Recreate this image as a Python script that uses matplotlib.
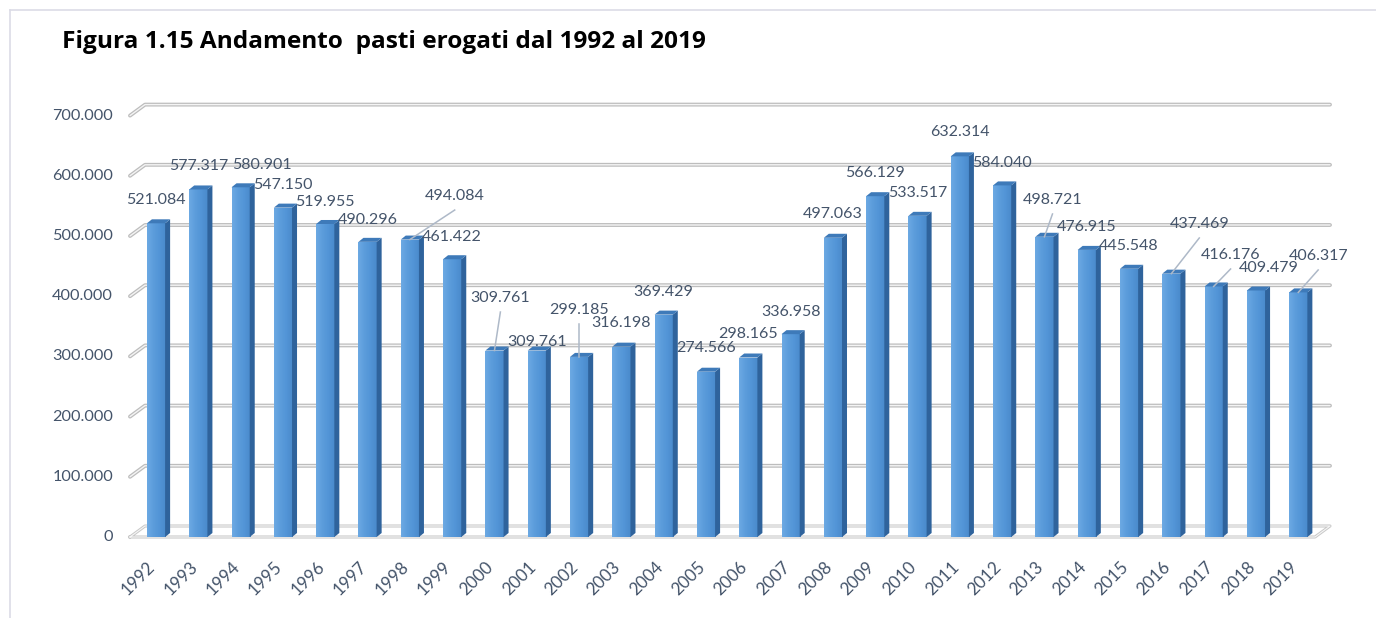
import numpy as np
import matplotlib
matplotlib.use("Agg")
import matplotlib.pyplot as plt
from matplotlib.patches import Polygon
from matplotlib.lines import Line2D
from matplotlib.colors import LinearSegmentedColormap

# ---------------- data ----------------
years = [str(y) for y in range(1992, 2020)]
meals = [521084, 577317, 580901, 547150, 519955, 490296, 494084, 461422,
         309761, 309761, 299185, 316198, 369429, 274566, 298165, 336958,
         497063, 566129, 533517, 632314, 584040, 498721, 476915, 445548,
         437469, 416176, 409479, 406317]
value_labels = ["521.084", "577.317", "580.901", "547.150", "519.955", "490.296",
                "494.084", "461.422", "309.761", "309.761", "299.185", "316.198",
                "369.429", "274.566", "298.165", "336.958", "497.063", "566.129",
                "533.517", "632.314", "584.040", "498.721", "476.915", "445.548",
                "437.469", "416.176", "409.479", "406.317"]
y_ticks = [0, 100000, 200000, 300000, 400000, 500000, 600000, 700000]
y_tick_labels = ["0", "100.000", "200.000", "300.000", "400.000", "500.000",
                 "600.000", "700.000"]
title = "Figura 1.15 Andamento  pasti erogati dal 1992 al 2019"

# ---------------- layout (label placement, in bar units / value units) -----
lab_dx = [0, 0, 0.5, 0, 0, 0, 1.06, 0, 0.14, 0, 0, 0, 0, 0, 0, 0,
          0, 0, 0, 0, 0, 0.19, 0, 0, 0.66, 0.40, 0.31, 0.47]
lab_dy = [38.7, 39.0, 37.0, 37.6, 36.5, 36.3, 72.3, 36.9, 87.2, 14.1, 77.9, 39.3,
          37.6, 39.4, 39.0, 36.8, 39.5, 38.6, 37.9, 40.5, 37.3, 61.1, 38.0, 37.8,
          82.5, 52.3, 37.3, 60.5]
leader = [False, False, False, False, False, False, True, False, True, False, True, False,
          False, False, False, False, False, False, False, False, False, True, False, False,
          True, True, False, True]

W, H = 1376, 618
fig = plt.figure(figsize=(W / 100, H / 100), dpi=100)
fig.patch.set_facecolor("white")

ax_l, ax_r, ax_b, ax_t = 130, 1330, 537, 100   # pixel box of axes
ax = fig.add_axes([ax_l / W, (H - ax_b) / H, (ax_r - ax_l) / W, (ax_b - ax_t) / H])
px_per_val = 0.000602
ax.set_ylim(0, (ax_b - ax_t) / px_per_val)
ax.set_xlim(-0.615, 27.75)
for s in ax.spines.values():
    s.set_visible(False)
ax.set_xticks([])
ax.set_yticks([])

text_color = "#44546A"
font = "Lato"

# 3D depth offsets
dpx_x, dpx_y = 15, 11
ux = (27.75 + 0.615) / (ax_r - ax_l)      # data units per px in x
dxw = dpx_x * ux
dyw = dpx_y / px_per_val
x0 = -0.615
x1 = 27.75

# gridlines (back wall) with diagonal front piece
for v in y_ticks[1:]:
    xs = [x0, x0 + dxw, x1]
    ys = [v, v + dyw, v + dyw]
    ax.plot(xs, ys, color="#BDBDBD", lw=2.8, solid_capstyle="round", clip_on=False, zorder=1)
    ax.plot(xs, ys, color="#F4F4F4", lw=1.0, solid_capstyle="round", clip_on=False, zorder=1.1)

# floor
fx_front_end = x1 - dxw
floor_xs = [x0, fx_front_end, x1, x0 + dxw, x0]
floor_ys = [0, 0, dyw, dyw, 0]
ax.plot(floor_xs, floor_ys, color="#C8C8C8", lw=2.2, clip_on=False, zorder=1,
        solid_joinstyle="round")
ax.plot(floor_xs, floor_ys, color="#F6F6F6", lw=0.8, clip_on=False, zorder=1.1,
        solid_joinstyle="round")

# y tick labels
for v, t in zip(y_ticks, y_tick_labels):
    ax.annotate(t, xy=(x0, v), xycoords="data", xytext=(-17, 0),
                textcoords="offset pixels", ha="right", va="center",
                fontsize=11.7, color=text_color, family=font, annotation_clip=False)

# bars
x = np.arange(len(meals))
bw = 0.43
side = 5 * ux
rise = 4 / px_per_val
front_cmap = LinearSegmentedColormap.from_list(
    "front", ["#6CA9E3", "#5C9DDC", "#5294D6", "#4A8ACB"])
grad = np.linspace(0, 1, 64).reshape(1, -1)
bars = ax.bar(x, meals, width=bw, color="#5596D8", edgecolor="none", zorder=3)
for xi, v, b in zip(x, meals, bars):
    im = ax.imshow(grad, cmap=front_cmap, aspect="auto",
                   extent=(xi - bw / 2, xi + bw / 2, 0, v), zorder=3.2)
    im.set_clip_path(b)
    # side face
    ax.add_patch(Polygon([(xi + bw / 2, 0), (xi + bw / 2 + side, rise),
                          (xi + bw / 2 + side, v + rise), (xi + bw / 2, v)],
                         closed=True, facecolor="#2F639C", edgecolor="none", zorder=3.3))
    # top face
    ax.add_patch(Polygon([(xi - bw / 2, v), (xi + bw / 2, v),
                          (xi + bw / 2 + side, v + rise), (xi - bw / 2 + side, v + rise)],
                         closed=True, facecolor="#3E7AB9", edgecolor="none", zorder=3.4))
ax.set_xlim(-0.615, 27.75)
ax.set_ylim(0, (ax_b - ax_t) / px_per_val)

# data labels and leader lines
for xi, v, lab, ddx, ddy, ld in zip(x, meals, value_labels, lab_dx, lab_dy, leader):
    lx = xi + ddx
    ly = v + ddy * 1000
    if ld:
        ax.plot([xi, lx], [v, ly - 14 / px_per_val], color="#AEB9C8", lw=1.1,
                zorder=4, clip_on=False)
    ax.text(lx, ly, lab, ha="center", va="center", fontsize=11.5,
            color=text_color, family=font, zorder=5, clip_on=False)

# x tick labels
for xi, yr in zip(x, years):
    ax.annotate(yr, xy=(xi, 0), xycoords=("data", "axes fraction"),
                xytext=(-9, -22), textcoords="offset pixels",
                ha="right", va="top", rotation=45, rotation_mode="anchor",
                fontsize=12.3, color=text_color, family=font, annotation_clip=False)

# title
fig.text(62 / W, 1 - 42 / H, title, ha="left", va="center", fontsize=17.6,
         fontweight="bold", family="Open Sans", color="black")

# outer frame (top and left edges)
fig.add_artist(Line2D([10 / W, 1], [1 - 10 / H, 1 - 10 / H], transform=fig.transFigure,
                      color="#DCDCE6", lw=1.2))
fig.add_artist(Line2D([10 / W, 10 / W], [0, 1 - 10 / H], transform=fig.transFigure,
                      color="#DCDCE6", lw=1.2))

fig.savefig("out.png", dpi=100, facecolor="white")
